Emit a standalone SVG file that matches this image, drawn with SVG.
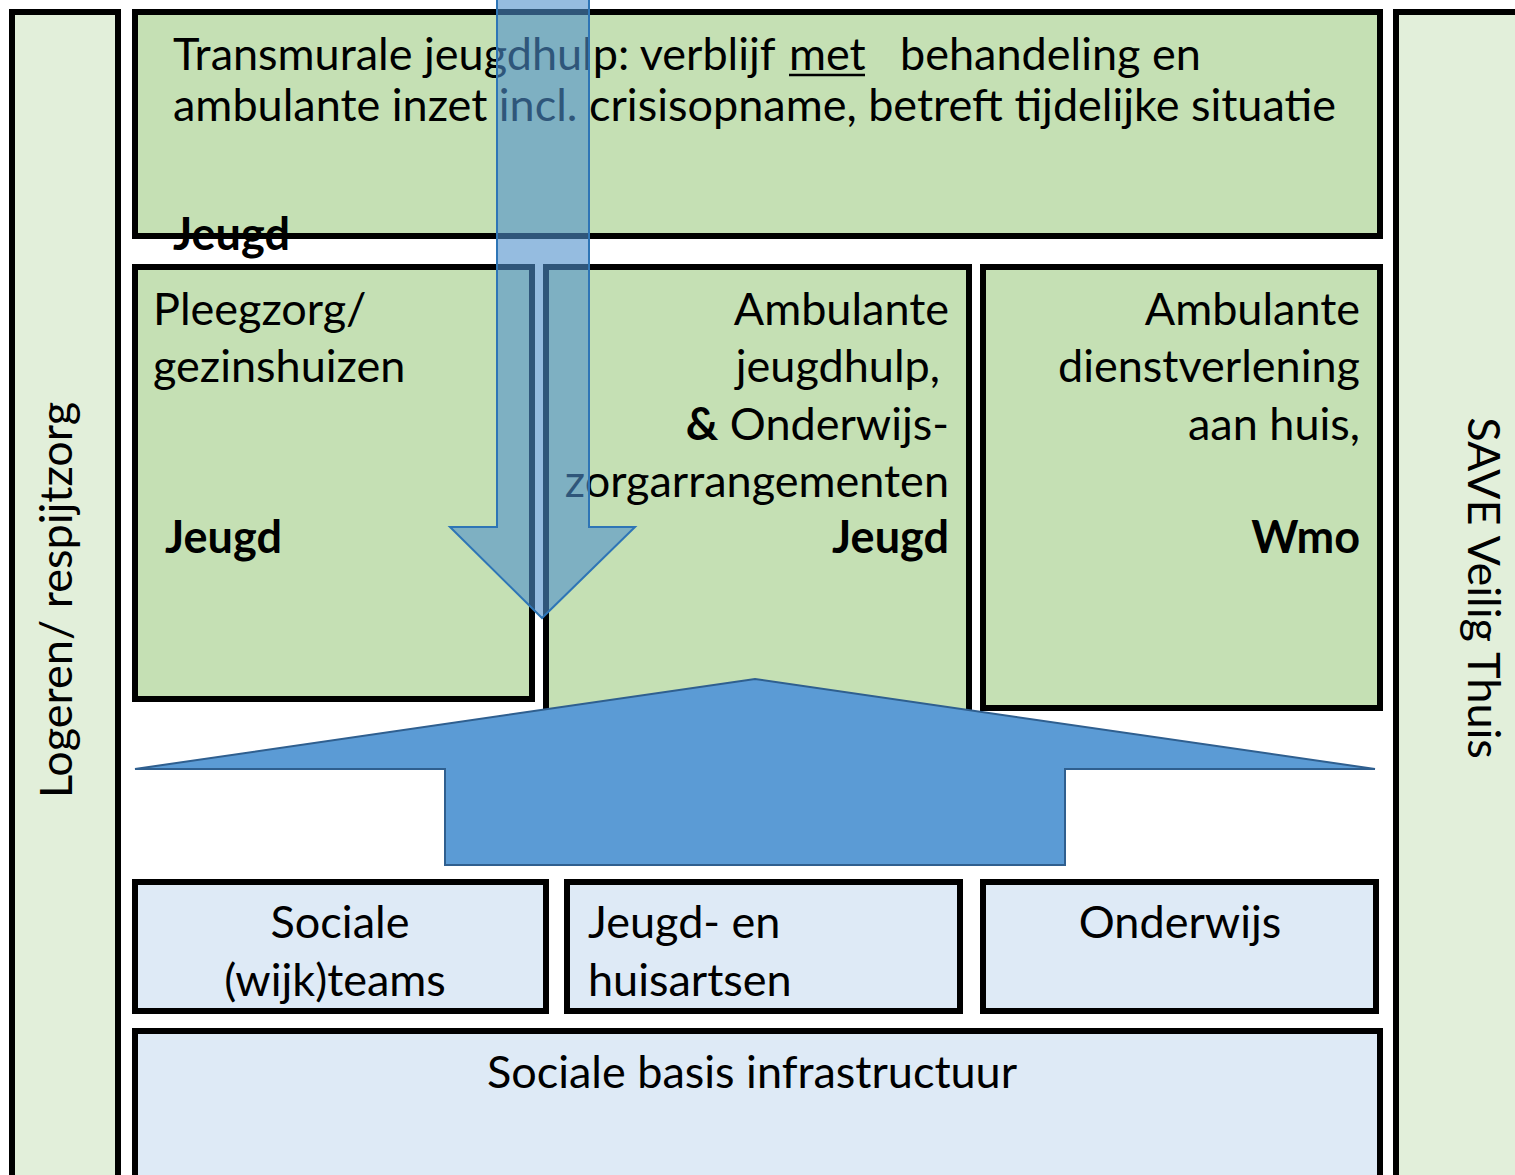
<svg xmlns="http://www.w3.org/2000/svg" width="1515" height="1175" viewBox="0 0 1515 1175">
<style>
.t{font-family:Lato,"Liberation Sans",sans-serif;font-size:45px;fill:#000}
.b{font-weight:bold}
.side{fill:#E2EFDA;stroke:#000;stroke-width:6}
.green{fill:#C5E0B4;stroke:#000;stroke-width:6}
.blue{fill:#DEEAF6;stroke:#000;stroke-width:6}
</style>
<rect width="1515" height="1175" fill="#fff"/>
<g id="logeren">
<rect class="side" x="12" y="12" width="106" height="1180"/>
<text class="t" transform="translate(72,600) rotate(-90)" text-anchor="middle">Logeren/ respijtzorg</text>
</g>
<g id="save">
<rect class="side" x="1396" y="12" width="140" height="1180"/>
<text class="t" transform="translate(1468,588) rotate(90)" text-anchor="middle">SAVE Veilig Thuis</text>
</g>
<g id="transmuraal">
<rect class="green" x="135" y="12" width="1245" height="224"/>
<text class="t" x="173" y="70">Transmurale jeugdhulp: verblijf <tspan x="789">met</tspan><tspan x="900">behandeling en</tspan></text>
<line x1="789" y1="75" x2="865" y2="75" stroke="#000" stroke-width="2.5"/>
<text class="t" x="173" y="121">ambulante inzet incl. crisisopname, betreft tijdelijke situatie</text>
<text class="t b" x="173" y="250">Jeugd</text>
</g>
<g id="pleegzorg">
<rect class="green" x="135" y="267" width="397" height="432"/>
<text class="t" x="153" y="325">Pleegzorg/</text>
<text class="t" x="153" y="382">gezinshuizen</text>
<text class="t b" x="165" y="553">Jeugd</text>
</g>
<g id="ambulante-jeugdhulp">
<rect class="green" x="546" y="267" width="423" height="460"/>
<text class="t" x="949" y="325" text-anchor="end">Ambulante</text>
<text class="t" x="940" y="382" text-anchor="end">jeugdhulp,</text>
<text class="t" x="949" y="440" text-anchor="end"><tspan class="b">&amp;</tspan> Onderwijs-</text>
<text class="t" x="949" y="497" text-anchor="end">zorgarrangementen</text>
<text class="t b" x="949" y="553" text-anchor="end">Jeugd</text>
</g>
<g id="ambulante-dienstverlening">
<rect class="green" x="983" y="267" width="397" height="441"/>
<text class="t" x="1360" y="325" text-anchor="end">Ambulante</text>
<text class="t" x="1360" y="382" text-anchor="end">dienstverlening</text>
<text class="t" x="1360" y="440" text-anchor="end">aan huis,</text>
<text class="t b" x="1360" y="553" text-anchor="end">Wmo</text>
</g>
<g id="sociale-wijkteams">
<rect class="blue" x="135" y="882" width="411" height="129"/>
<text class="t" x="340" y="938" text-anchor="middle">Sociale</text>
<text class="t" x="335" y="996" text-anchor="middle">(wijk)teams</text>
</g>
<g id="huisartsen">
<rect class="blue" x="567" y="882" width="393" height="129"/>
<text class="t" x="588" y="938">Jeugd- en</text>
<text class="t" x="588" y="996">huisartsen</text>
</g>
<g id="onderwijs">
<rect class="blue" x="983" y="882" width="393" height="129"/>
<text class="t" x="1180" y="938" text-anchor="middle">Onderwijs</text>
</g>
<g id="basis">
<rect class="blue" x="135" y="1031" width="1245" height="160"/>
<text class="t" x="752" y="1088" text-anchor="middle">Sociale basis infrastructuur</text>
</g>
<g id="connectors">
<polygon points="135,769 755,679 1375,769 1065,769 1065,865 445,865 445,769" fill="#5B9BD5" stroke="#2F5F8F" stroke-width="2"/>
<polygon points="497,-5 589,-5 589,527 635,527 542,618 450,527 497,527" fill="#4F8FCB" fill-opacity="0.6" stroke="#2E75B6" stroke-width="2"/>
</g>
</svg>
